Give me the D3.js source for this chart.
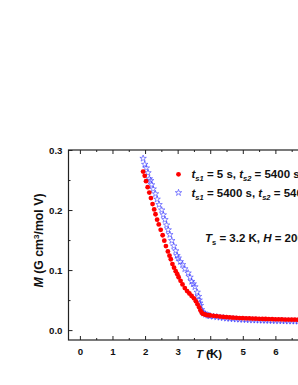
<html>
<head>
<script src="https://d3js.org/d3.v7.min.js"></script>
<style>
  body { margin: 0; background: #fff; }
  svg { font-family: "Liberation Sans", Arial, sans-serif; font-weight: bold; }
</style>
</head>
<body>
<svg id="chart" width="298" height="385"></svg>
<script>
// red circles: t_s1 = 5 s, t_s2 = 5400 s
const redT = [1.94, 1.99, 2.03, 2.08, 2.13, 2.18, 2.23, 2.28, 2.32, 2.37, 2.42, 2.48, 2.54, 2.59, 2.64, 2.70,
  2.75, 2.79, 2.84, 2.89, 2.94, 2.99, 3.03, 3.09, 3.15, 3.22, 3.29, 3.36, 3.43, 3.50, 3.56, 3.61, 3.66, 3.70,
  3.74, 3.78, 3.84, 3.90, 3.95,
  4.0, 4.1, 4.2, 4.3, 4.4, 4.5, 4.6, 4.7, 4.8, 4.9, 5.0, 5.1, 5.2, 5.3, 5.4, 5.5, 5.6, 5.7, 5.8, 5.9,
  6.0, 6.1, 6.2, 6.3, 6.4, 6.5, 6.6, 6.7, 6.8, 6.9, 7.0, 7.1, 7.2, 7.3, 7.4];
const redM = [0.264, 0.257, 0.248, 0.238, 0.229, 0.220, 0.210, 0.201, 0.193, 0.184, 0.176, 0.167, 0.158, 0.149, 0.140, 0.131,
  0.124, 0.118, 0.110, 0.104, 0.098, 0.093, 0.088, 0.082, 0.076, 0.070, 0.065, 0.061, 0.057, 0.053, 0.048, 0.043, 0.038, 0.033,
  0.029, 0.027, 0.026, 0.025, 0.0248,
  0.0245, 0.0238, 0.0232, 0.0226, 0.0220, 0.0215, 0.0211, 0.0207, 0.0204, 0.0201, 0.0198, 0.0196, 0.0194, 0.0192, 0.0190, 0.0188,
  0.0186, 0.0185, 0.0183, 0.0182, 0.0180, 0.0179, 0.0177, 0.0176, 0.0175, 0.0174, 0.0173, 0.0172, 0.0171, 0.0171, 0.0170,
  0.0169, 0.0169, 0.0168, 0.0168];

// blue stars: t_s1 = 5400 s, t_s2 = 5400 s
const blueT = [1.94, 1.99, 2.04, 2.09, 2.13, 2.17, 2.20, 2.25, 2.32, 2.37, 2.43, 2.51, 2.56, 2.61, 2.66, 2.71, 2.76,
  2.82, 2.88, 2.94, 2.98, 3.02, 3.08, 3.15, 3.22, 3.32, 3.38, 3.43, 3.48, 3.53, 3.60, 3.64, 3.66, 3.68, 3.70, 3.73,
  3.77, 3.80, 3.86, 3.92, 3.96,
  4.0, 4.1, 4.2, 4.3, 4.4, 4.5, 4.6, 4.7, 4.8, 4.9, 5.0, 5.1, 5.2, 5.3, 5.4, 5.5, 5.6, 5.7, 5.8, 5.9,
  6.0, 6.1, 6.2, 6.3, 6.4, 6.5, 6.6, 6.7, 6.8, 6.9, 7.0, 7.1, 7.2, 7.3, 7.4];
const blueM = [0.286, 0.276, 0.270, 0.262, 0.252, 0.249, 0.242, 0.235, 0.227, 0.218, 0.209, 0.200, 0.192, 0.184, 0.175, 0.167, 0.159,
  0.149, 0.140, 0.132, 0.124, 0.120, 0.114, 0.109, 0.102, 0.095, 0.088, 0.081, 0.077, 0.072, 0.063, 0.056, 0.050, 0.045, 0.041, 0.034,
  0.030, 0.028, 0.026, 0.025, 0.024,
  0.0235, 0.0226, 0.0218, 0.0211, 0.0204, 0.0196, 0.0191, 0.0186, 0.0182, 0.0178, 0.0175, 0.0172, 0.0170, 0.0167, 0.0165, 0.0163,
  0.0161, 0.0160, 0.0158, 0.0156, 0.0155, 0.0154, 0.0152, 0.0151, 0.0149, 0.0148, 0.0147, 0.0146, 0.0145, 0.0144, 0.0143,
  0.0142, 0.0141, 0.0141, 0.0140];

const xTicks = [0, 1, 2, 3, 4, 5, 6, 7];
const xMinor = [0.5, 1.5, 2.5, 3.5, 4.5, 5.5, 6.5, 7.5];
const yTicks = [0.0, 0.1, 0.2, 0.3];
const yMinor = [0.05, 0.15, 0.25];

const svg = d3.select("#chart");
const pLeft = 68.5, pRight = 321, pTop = 150, pBottom = 340;

const x = d3.scaleLinear().domain([-0.35, 7.4]).range([pLeft, pRight]);
const y = d3.scaleLinear().domain([-0.0165, 0.3]).range([pBottom, pTop]);

// frame
svg.append("rect")
  .attr("x", pLeft).attr("y", pTop)
  .attr("width", pRight - pLeft).attr("height", pBottom - pTop)
  .attr("fill", "none").attr("stroke", "#222").attr("stroke-width", 1.2);

// bottom axis
const xAxis = svg.append("g").attr("transform", `translate(0,${pBottom})`)
  .call(d3.axisBottom(x).tickValues(xTicks).tickSize(-4).tickPadding(8).tickFormat(d3.format("d")));
xAxis.select(".domain").remove();
xAxis.selectAll("text").attr("font-size", 9.7).attr("font-weight", "bold").attr("fill", "#111")
  .attr("font-family", "Liberation Sans, Arial, sans-serif");
svg.append("g").attr("transform", `translate(0,${pBottom})`)
  .call(d3.axisBottom(x).tickValues(xMinor).tickSize(-2).tickFormat(""))
  .select(".domain").remove();

// top axis ticks
svg.append("g").attr("transform", `translate(0,${pTop})`)
  .call(d3.axisTop(x).tickValues(xTicks).tickSize(-4).tickFormat(""))
  .select(".domain").remove();
svg.append("g").attr("transform", `translate(0,${pTop})`)
  .call(d3.axisTop(x).tickValues(xMinor).tickSize(-2).tickFormat(""))
  .select(".domain").remove();

// left axis
const yAxis = svg.append("g").attr("transform", `translate(${pLeft},0)`)
  .call(d3.axisLeft(y).tickValues(yTicks).tickSize(-4).tickPadding(6).tickFormat(d3.format(".1f")));
yAxis.select(".domain").remove();
yAxis.selectAll("text").attr("font-size", 9.7).attr("font-weight", "bold").attr("fill", "#111")
  .attr("font-family", "Liberation Sans, Arial, sans-serif");
svg.append("g").attr("transform", `translate(${pLeft},0)`)
  .call(d3.axisLeft(y).tickValues(yMinor).tickSize(-2).tickFormat(""))
  .select(".domain").remove();

svg.selectAll(".tick line").attr("stroke", "#222").attr("stroke-width", 1);

// axis titles
const xt = svg.append("text").attr("x", 209).attr("y", 358)
  .attr("text-anchor", "middle").attr("font-size", 11.5).attr("fill", "#111");
xt.append("tspan").attr("font-style", "italic").text("T");
xt.append("tspan").text(" (K)");

const yt = svg.append("text")
  .attr("transform", "translate(43,240.5) rotate(-90)")
  .attr("text-anchor", "middle").attr("font-size", 12.3).attr("fill", "#111");
yt.append("tspan").attr("font-style", "italic").text("M");
yt.append("tspan").text(" (G cm");
yt.append("tspan").attr("font-size", 8).attr("dy", -4.5).text("3");
yt.append("tspan").attr("dy", 4.5).text("/mol V)");

// data
const star = d3.symbol().type(d3.symbolStar).size(13);
const blue = blueT.map((t, i) => ({ t: t, m: blueM[i] }));
const red = redT.map((t, i) => ({ t: t, m: redM[i] }));

svg.selectAll("path.star").data(blue).join("path")
  .attr("class", "star")
  .attr("d", star)
  .attr("transform", d => `translate(${x(d.t)},${y(d.m)})`)
  .attr("fill", "none").attr("stroke", "#3a3aff").attr("stroke-width", 0.6);

svg.selectAll("circle.dot").data(red).join("circle")
  .attr("class", "dot")
  .attr("cx", d => x(d.t)).attr("cy", d => y(d.m))
  .attr("r", 2.4).attr("fill", "#ff0000");

// legend
svg.append("circle").attr("cx", 178.5).attr("cy", 174.3).attr("r", 2.4).attr("fill", "#ff0000");
svg.append("path").attr("d", star).attr("transform", "translate(178.5,192.7)")
  .attr("fill", "none").attr("stroke", "#3a3aff").attr("stroke-width", 0.6);

function legendLine(yPos, a, b) {
  const t = svg.append("text").attr("x", 191.5).attr("y", yPos).attr("font-size", 11.5).attr("fill", "#111");
  t.append("tspan").attr("font-style", "italic").text("t");
  t.append("tspan").attr("font-style", "italic").attr("font-size", 7.5).attr("dy", 3).text("s1");
  t.append("tspan").attr("dy", -3).text(" = " + a + ", ");
  t.append("tspan").attr("font-style", "italic").text("t");
  t.append("tspan").attr("font-style", "italic").attr("font-size", 7.5).attr("dy", 3).text("s2");
  t.append("tspan").attr("dy", -3).text(" = " + b);
}
legendLine(178, "5 s", "5400 s");
legendLine(196.5, "5400 s", "5400 s");

const note = svg.append("text").attr("x", 205).attr("y", 242).attr("font-size", 11.5).attr("fill", "#111");
note.append("tspan").attr("font-style", "italic").text("T");
note.append("tspan").attr("font-size", 7.5).attr("dy", 3).text("s");
note.append("tspan").attr("dy", -3).text(" = 3.2 K, ");
note.append("tspan").attr("font-style", "italic").text("H");
note.append("tspan").text(" = 200 Oe");
</script>
</body>
</html>
